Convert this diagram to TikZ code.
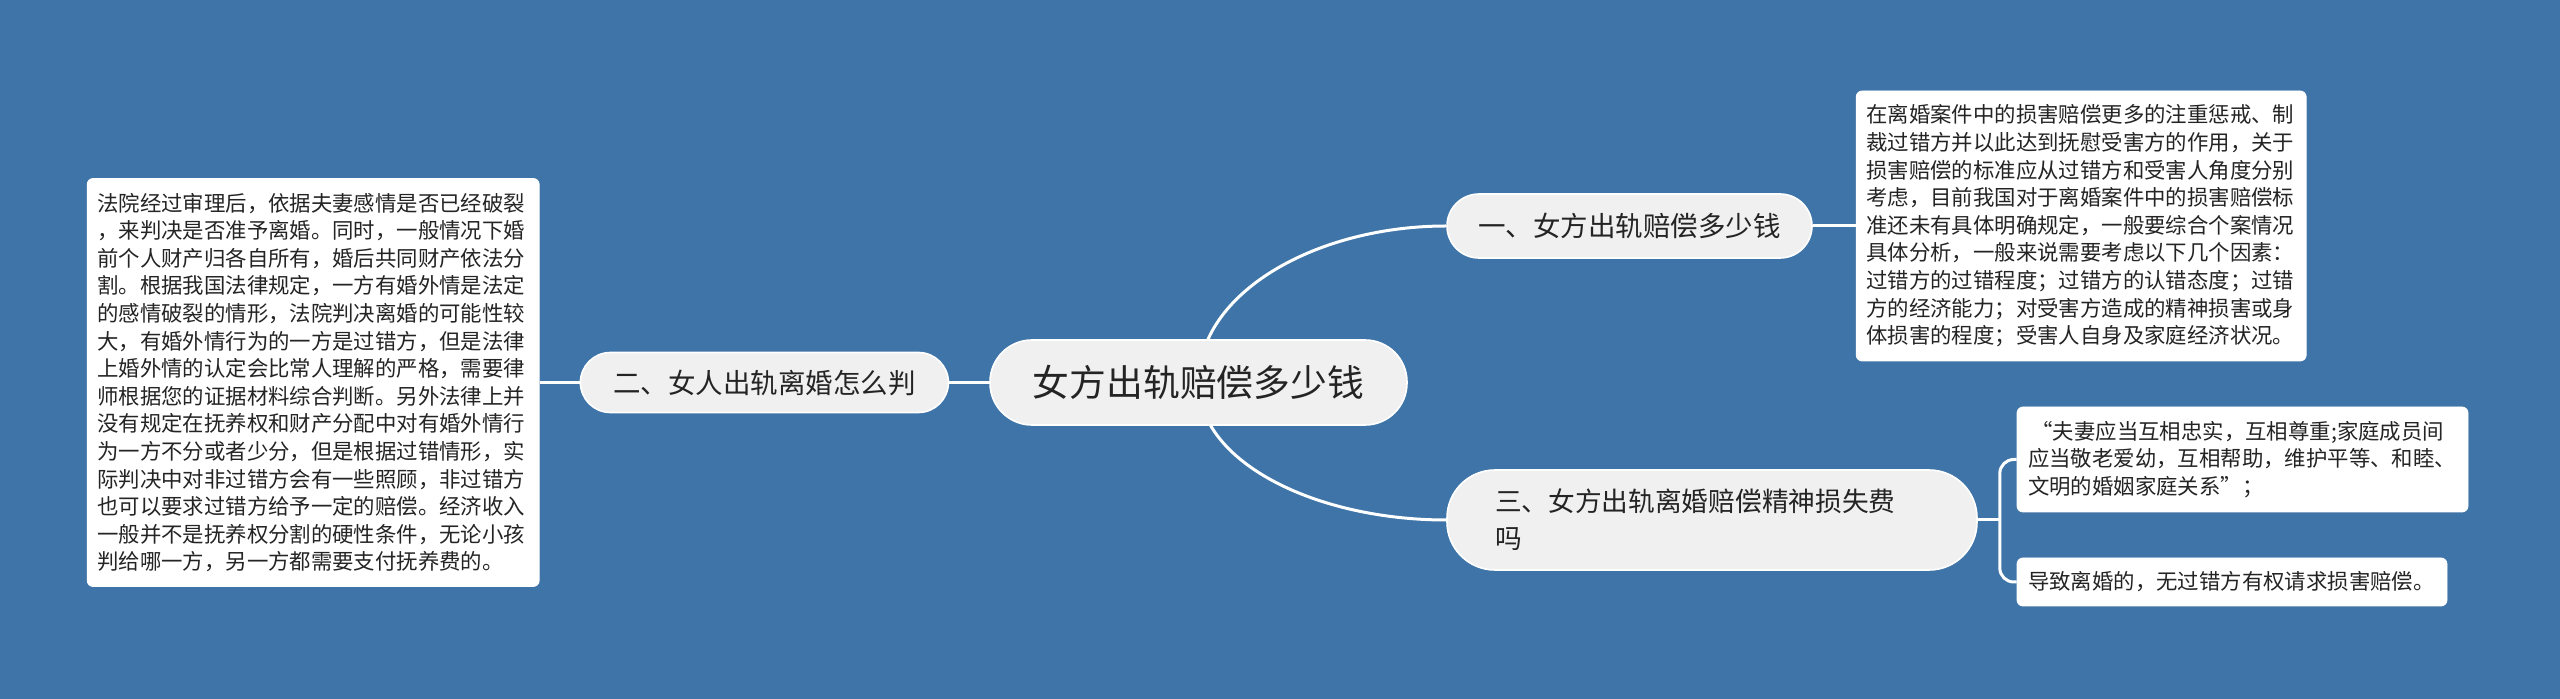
\documentclass[tikz,border=0pt]{standalone}
\usepackage{fontspec}
\setmainfont{Noto Sans CJK SC}
\usetikzlibrary{positioning,backgrounds}
\definecolor{bgblue}{RGB}{62,116,167}
\definecolor{pillgray}{RGB}{240,240,240}
\definecolor{inkgray}{RGB}{36,36,36}

\begin{document}
\begin{tikzpicture}[
      x=0.5pt, y=-0.5pt,
      pill/.style={draw=white, line width=0.8pt, fill=pillgray, text=inkgray,
                   align=center, inner sep=0pt},
      note/.style={draw=white, fill=white, rounded corners=3pt, text=inkgray,
                   align=left, inner xsep=5pt, inner ysep=0pt,
                   font=\fontsize{10.7pt}{13.8pt}\selectfont},
      link/.style={white, line width=1.5pt},
    ]
    \useasboundingbox (0,0) rectangle (2560,699);

    % --- topics ---
    \node[pill, rounded corners=21pt, minimum width=208.5pt, minimum height=42.5pt,
          font=\fontsize{18.4pt}{22pt}\selectfont] (root) at (1198.5,382.5)
      {女方出轨赔偿多少钱};
    \node[pill, rounded corners=16pt, minimum width=182.5pt, minimum height=32pt,
          font=\fontsize{13.75pt}{17pt}\selectfont] (n1) at (1629.5,226)
      {一、女方出轨赔偿多少钱};
    \node[pill, rounded corners=15pt, minimum width=184pt, minimum height=30pt,
          font=\fontsize{13.75pt}{17pt}\selectfont, left=20pt of root] (n2)
      {二、女人出轨离婚怎么判};
    \node[pill, rounded corners=24pt, minimum width=265pt, minimum height=50pt,
          text width=217pt, align=left,
          font=\fontsize{13.35pt}{18.5pt}\selectfont] (n3) at (1712,520)
      {三、女方出轨离婚赔偿精神损失费\\吗};

    % --- notes ---
    \node[note, text width=216pt, minimum height=204pt, left=20pt of n2] (t2)
      {法院经过审理后，依据夫妻感情是否已经破裂\\
       ，来判决是否准予离婚。同时，一般情况下婚\\
       前个人财产归各自所有，婚后共同财产依法分\\
       割。根据我国法律规定，一方有婚外情是法定\\
       的感情破裂的情形，法院判决离婚的可能性较\\
       大，有婚外情行为的一方是过错方，但是法律\\
       上婚外情的认定会比常人理解的严格，需要律\\
       师根据您的证据材料综合判断。另外法律上并\\
       没有规定在抚养权和财产分配中对有婚外情行\\
       为一方不分或者少分，但是根据过错情形，实\\
       际判决中对非过错方会有一些照顾，非过错方\\
       也可以要求过错方给予一定的赔偿。经济收入\\
       一般并不是抚养权分割的硬性条件，无论小孩\\
       判给哪一方，另一方都需要支付抚养费的。};
    \node[note, text width=215pt, minimum height=135pt, right=21.5pt of n1] (t1)
      {在离婚案件中的损害赔偿更多的注重惩戒、制\\
       裁过错方并以此达到抚慰受害方的作用，关于\\
       损害赔偿的标准应从过错方和受害人角度分别\\
       考虑，目前我国对于离婚案件中的损害赔偿标\\
       准还未有具体明确规定，一般要综合个案情况\\
       具体分析，一般来说需要考虑以下几个因素：\\
       过错方的过错程度；过错方的认错态度；过错\\
       方的经济能力；对受害方造成的精神损害或身\\
       体损害的程度；受害人自身及家庭经济状况。};
    \node[note, text width=214.5pt, minimum height=52.5pt, inner xsep=5.5pt] (t3a)
      at (2242.5,459.5)
      {\,“夫妻应当互相忠实，互相尊重;家庭成员间\\
       应当敬老爱幼，互相帮助，维护平等、和睦、\\
       文明的婚姻家庭关系”；};
    \node[note, text width=204pt, minimum height=24pt, inner xsep=5.5pt] (t3b)
      at (2232,582)
      {导致离婚的，无过错方有权请求损害赔偿。};

    % --- links ---
    \begin{scope}[on background layer]
      \fill[bgblue] (0,0) rectangle (2560,699);
      \draw[link] (root.center) .. controls +(0,-90) and +(-130,0) .. (n1.west);
      \draw[link] (root.center) .. controls +(0,80) and +(-130,0) .. (n3.west);
      \draw[link] (root.west) -- (n2.east);
      \draw[link] (n2.west) -- (t2.east);
      \draw[link] (n1.east) -- (t1.west);
      \draw[link] (n3.east) -- ++(22,0) coordinate (fork);
      \draw[link, rounded corners=7pt] (fork) |- (t3a.west);
      \draw[link, rounded corners=7pt] (fork) |- (t3b.west);
    \end{scope}
  \end{tikzpicture}
\end{document}
